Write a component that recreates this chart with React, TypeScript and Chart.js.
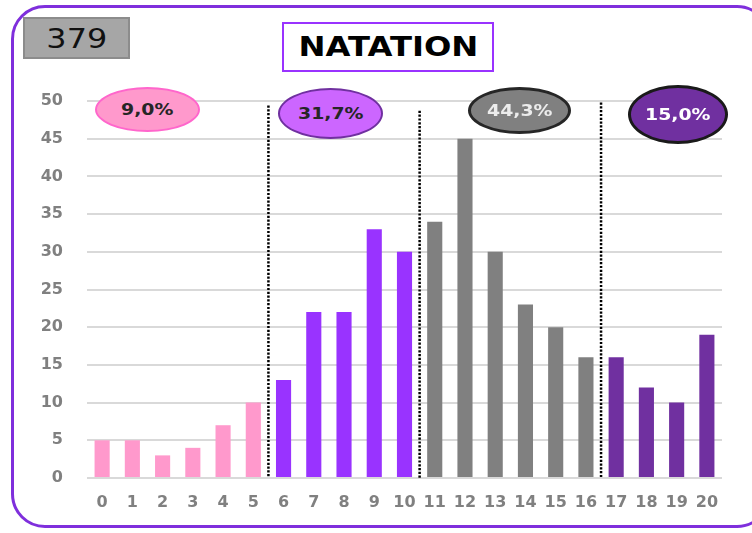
import React, { useEffect, useRef } from "react";
import { Chart, registerables } from "chart.js";

Chart.register(...registerables);

const categories = ["0","1","2","3","4","5","6","7","8","9","10","11","12","13","14","15","16","17","18","19","20"];
const counts = [5, 5, 3, 4, 7, 10, 13, 22, 22, 33, 30, 34, 45, 30, 23, 20, 16, 16, 12, 10, 19];
const groupEnds = [5, 10, 16, 20];
const groupColors = ["#ff99cc", "#9933ff", "#808080", "#7030a0"];
const groupLabels = ["9,0%", "31,7%", "44,3%", "15,0%"];
const total = "379";
const title = "NATATION";
const yTicks = [0, 5, 10, 15, 20, 25, 30, 35, 40, 45, 50];

function colorFor(i: number) {
  for (let g = 0; g < groupEnds.length; g++) if (i <= groupEnds[g]) return groupColors[g];
  return groupColors[groupColors.length - 1];
}

const separatorTops = [49.4, 48.7, 49.8];

const dottedPlugin = {
  id: "dotted",
  afterDatasetsDraw(chart: any) {
    const { ctx, scales } = chart;
    const x = scales.x;
    const y = scales.y;
    ctx.save();
    ctx.strokeStyle = "#000";
    ctx.lineWidth = 2.5;
    ctx.setLineDash([2.2, 1.6]);
    groupEnds.slice(0, 3).forEach((e, k) => {
      const px = (x.getPixelForValue(e) + x.getPixelForValue(e + 1)) / 2;
      ctx.beginPath();
      ctx.moveTo(px, y.getPixelForValue(separatorTops[k]));
      ctx.lineTo(px, y.getPixelForValue(0));
      ctx.stroke();
    });
    ctx.restore();
  },
};

const ellipses = [
  { left: 95, top: 87, w: 105, h: 45, bg: "#ff99cc", border: "#ff66cc", bw: 2, color: "#262626" },
  { left: 278, top: 88, w: 105, h: 51, bg: "#cc66ff", border: "#7030a0", bw: 2, color: "#262626" },
  { left: 468, top: 87, w: 103, h: 47, bg: "#808080", border: "#262626", bw: 3, color: "#ececec" },
  { left: 628, top: 85, w: 100, h: 59, bg: "#7030a0", border: "#1a1a1a", bw: 3, color: "#ffffff" },
];

export default function App() {
  const ref = useRef<HTMLCanvasElement>(null);
  useEffect(() => {
    if (!ref.current) return;
    const chart = new Chart(ref.current, {
      type: "bar",
      data: {
        labels: categories,
        datasets: [
          {
            data: counts,
            backgroundColor: counts.map((_, i) => colorFor(i)),
            barPercentage: 0.5,
            categoryPercentage: 1,
          },
        ],
      },
      options: {
        animation: false,
        responsive: false,
        layout: { padding: { left: 0, right: 30, top: 101, bottom: 0 } },
        plugins: { legend: { display: false }, tooltip: { enabled: false }, title: { display: false } },
        scales: {
          x: {
            grid: { display: false, drawTicks: false },
            border: { display: false },
            ticks: {
              color: "#808080",
              font: { family: "DejaVu Sans", weight: "bold", size: 16 },
              padding: 15,
              maxRotation: 0,
              autoSkip: false,
            },
            afterFit: (s: any) => { s.height = 55; },
          },
          y: {
            min: 0,
            max: 50,
            afterBuildTicks: (s: any) => { s.ticks = yTicks.map((v) => ({ value: v })); },
            grid: { color: "#d9d9d9", lineWidth: 2, drawTicks: false },
            border: { display: false },
            ticks: {
              color: "#808080",
              font: { family: "DejaVu Sans", weight: "bold", size: 16 },
              padding: 24,
            },
            afterFit: (s: any) => { s.width = 87; },
          },
        },
      },
      plugins: [dottedPlugin],
    });
    return () => chart.destroy();
  }, []);

  return (
    <div style={{ position: "fixed", left: 0, top: 0, width: 752, height: 533, background: "#fff", overflow: "hidden" }}>
      <div
        style={{
          position: "absolute", left: 11, top: 5, width: 760, height: 523,
          border: "3px solid #7f2fdc", borderRadius: 34, boxSizing: "border-box",
        }}
      />
      <canvas ref={ref} width={752} height={533} style={{ position: "absolute", left: 0, top: 0 }} />
      <div
        style={{
          position: "absolute", left: 23, top: 17, width: 107, height: 42, boxSizing: "border-box",
          background: "#a6a6a6", border: "2px solid #8c8c8c", display: "flex", alignItems: "center", justifyContent: "center",
        }}
      >
        <span style={{ fontFamily: "DejaVu Sans", fontSize: 27, color: "#111", transform: "scaleX(1.18)", display: "inline-block", lineHeight: 1 }}>
          {total}
        </span>
      </div>
      <div
        style={{
          position: "absolute", left: 282, top: 22, width: 212, height: 50, boxSizing: "border-box",
          background: "#fff", border: "2.5px solid #9933ff", display: "flex", alignItems: "center", justifyContent: "center",
        }}
      >
        <span style={{ fontFamily: "DejaVu Sans", fontWeight: "bold", fontSize: 26, color: "#000", transform: "scaleX(1.24)", display: "inline-block", lineHeight: 1 }}>
          {title}
        </span>
      </div>
      {ellipses.map((e, i) => (
        <div
          key={i}
          style={{
            position: "absolute", left: e.left, top: e.top, width: e.w, height: e.h, boxSizing: "border-box",
            background: e.bg, border: `${e.bw}px solid ${e.border}`, borderRadius: "50%",
            display: "flex", alignItems: "center", justifyContent: "center",
          }}
        >
          <span style={{ fontFamily: "DejaVu Sans", fontWeight: "bold", fontSize: 16, color: e.color, transform: "scaleX(1.18)", display: "inline-block", lineHeight: 1 }}>
            {groupLabels[i]}
          </span>
        </div>
      ))}
    </div>
  );
}
